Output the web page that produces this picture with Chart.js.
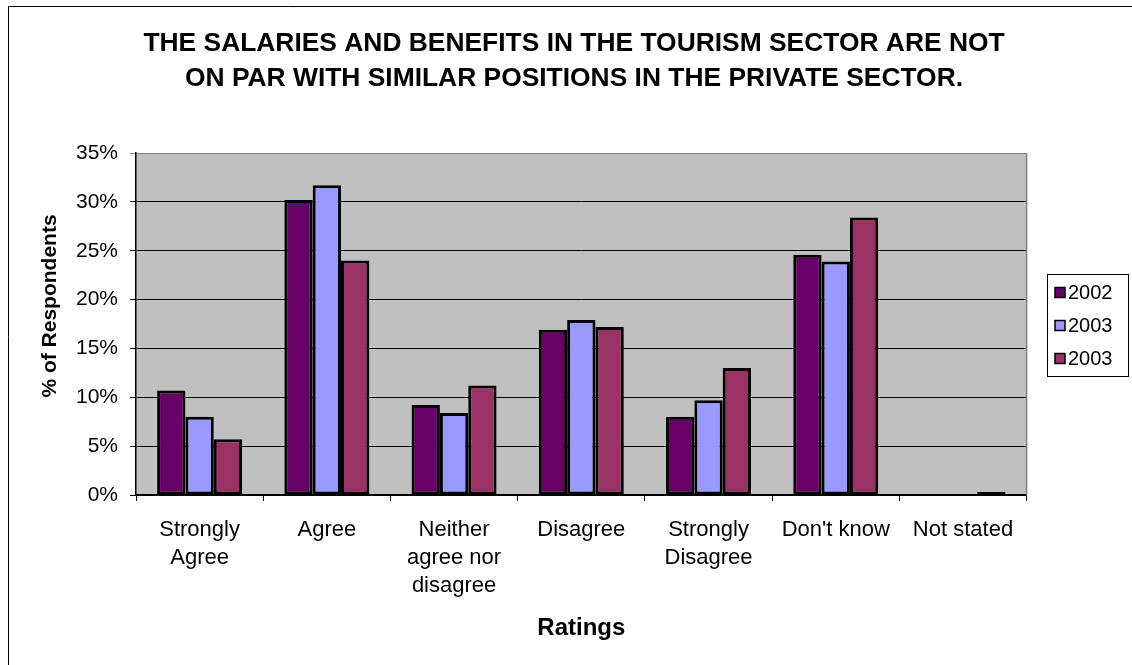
<!DOCTYPE html>
<html>
<head>
<meta charset="utf-8">
<script src="https://cdn.jsdelivr.net/npm/chart.js@4/dist/chart.umd.min.js"></script>
<style>
  html, body { margin: 0; padding: 0; background: #ffffff; }
  #wrap { width: 1132px; height: 665px; }
</style>
</head>
<body>
<div id="wrap"><canvas id="chart" width="1132" height="665"></canvas></div>
<script>
// Survey ratings, share of respondents (%)
const categories = [
  ['Strongly', 'Agree'],
  'Agree',
  ['Neither', 'agree nor', 'disagree'],
  'Disagree',
  ['Strongly', 'Disagree'],
  "Don't know",
  'Not stated'
];
const seriesLabels = ['2002', '2003', '2003'];
const values2002  = [10.7, 30.2, 9.2, 16.9, 8.0, 24.6, 0];
const values2003  = [8.0, 31.7, 8.4, 17.9, 9.7, 23.9, 0];
const values2003b = [5.7, 24.0, 11.2, 17.2, 13.0, 28.4, 0.3];
const yTicks = [0, 5, 10, 15, 20, 25, 30, 35];
const seriesColors = ['#660066', '#9999FF', '#993366'];

const FONT = '"Liberation Sans", Arial, sans-serif';

// Grey plot background, right plot edge, outer frame, y-axis title and legend
const decorations = {
  id: 'decorations',
  afterLayout(chart) {
    // centre the title over the whole frame rather than the area left of the legend
    if (chart.titleBlock) {
      chart.titleBlock.left = 16;
      chart.titleBlock.right = 1132;
    }
  },
  beforeDraw(chart) {
    const { ctx, chartArea: a } = chart;
    ctx.save();
    ctx.fillStyle = '#C0C0C0';
    ctx.fillRect(a.left, a.top, a.right - a.left, a.bottom - a.top);
    ctx.restore();
  },
  afterDraw(chart) {
    const { ctx, chartArea: a } = chart;
    ctx.save();
    // right edge of the plot
    ctx.strokeStyle = '#808080';
    ctx.lineWidth = 1.5;
    ctx.beginPath();
    ctx.moveTo(a.right, a.top);
    ctx.lineTo(a.right, a.bottom);
    ctx.stroke();

    // outer frame
    ctx.strokeStyle = '#000000';
    ctx.lineWidth = 1;
    ctx.beginPath();
    ctx.moveTo(8.5, 700);
    ctx.lineTo(8.5, 6.5);
    ctx.lineTo(1140, 6.5);
    ctx.stroke();

    // y-axis title
    ctx.fillStyle = '#000000';
    ctx.font = 'bold 21px ' + FONT;
    ctx.textAlign = 'center';
    ctx.textBaseline = 'middle';
    ctx.translate(50, 306);
    ctx.rotate(-Math.PI / 2);
    ctx.fillText('% of Respondents', 0, 0);
    ctx.setTransform(1, 0, 0, 1, 0, 0);

    // legend
    const box = { x: 1047.5, y: 274.5, w: 81, h: 102 };
    ctx.strokeStyle = '#000000';
    ctx.lineWidth = 1;
    ctx.strokeRect(box.x, box.y, box.w, box.h);
    ctx.font = '20px ' + FONT;
    ctx.textAlign = 'left';
    chart.data.datasets.forEach((ds, i) => {
      const cy = 292.5 + i * 33;
      ctx.fillStyle = ds.backgroundColor;
      ctx.fillRect(1055, cy - 5, 10, 10);
      ctx.strokeStyle = '#000000';
      ctx.lineWidth = 1.5;
      ctx.strokeRect(1055, cy - 5, 10, 10);
      ctx.fillStyle = '#000000';
      ctx.fillText(ds.label, 1068, cy + 1);
    });
    ctx.restore();
  }
};

const makeSet = (label, data, color) => ({
  label,
  data,
  backgroundColor: color,
  borderColor: '#000000',
  borderWidth: 3,
  borderSkipped: false,
  categoryPercentage: 0.668,
  barPercentage: 1.0
});

new Chart(document.getElementById('chart'), {
  type: 'bar',
  data: {
    labels: categories,
    datasets: [
      makeSet(seriesLabels[0], values2002, seriesColors[0]),
      makeSet(seriesLabels[1], values2003, seriesColors[1]),
      makeSet(seriesLabels[2], values2003b, seriesColors[2])
    ]
  },
  options: {
    responsive: false,
    animation: false,
    layout: { padding: { left: 0, right: 105.4, top: 0, bottom: 0 } },
    plugins: {
      legend: { display: false },
      tooltip: { enabled: false },
      title: {
        display: true,
        text: [
          'THE SALARIES AND BENEFITS IN THE TOURISM SECTOR ARE NOT',
          'ON PAR WITH SIMILAR POSITIONS IN THE PRIVATE SECTOR.'
        ],
        color: '#000000',
        font: { family: FONT, size: 26.4, weight: 'bold', lineHeight: 1.326 },
        padding: { top: 26, bottom: 57 }
      }
    },
    scales: {
      x: {
        afterFit(scale) { scale.height = 170; },
        grid: {
          display: true,
          offset: true,
          drawOnChartArea: false,
          drawTicks: true,
          tickLength: 6,
          color: '#000000',
          lineWidth: 1
        },
        border: { display: true, color: '#000000', width: 1.5 },
        ticks: {
          color: '#000000',
          padding: 15,
          maxRotation: 0,
          autoSkip: false,
          font: { family: FONT, size: 22, lineHeight: 1.27 }
        },
        title: {
          display: true,
          text: 'Ratings',
          color: '#000000',
          font: { family: FONT, size: 24, weight: 'bold', lineHeight: 1.2 },
          padding: { top: 0, bottom: 22 }
        }
      },
      y: {
        min: 0,
        max: 35,
        afterFit(scale) { scale.width = 136; },
        afterBuildTicks(scale) { scale.ticks = yTicks.map(v => ({ value: v })); },
        grid: {
          color: ctx => (ctx.tick && ctx.tick.value === 35 ? '#808080' : '#000000'),
          lineWidth: 1,
          tickLength: 6,
          drawTicks: true
        },
        border: { display: true, color: '#000000', width: 1.5 },
        ticks: {
          color: '#000000',
          padding: 12,
          font: { family: FONT, size: 21 },
          callback: v => v + '%'
        }
      }
    }
  },
  plugins: [decorations]
});
</script>
</body>
</html>
